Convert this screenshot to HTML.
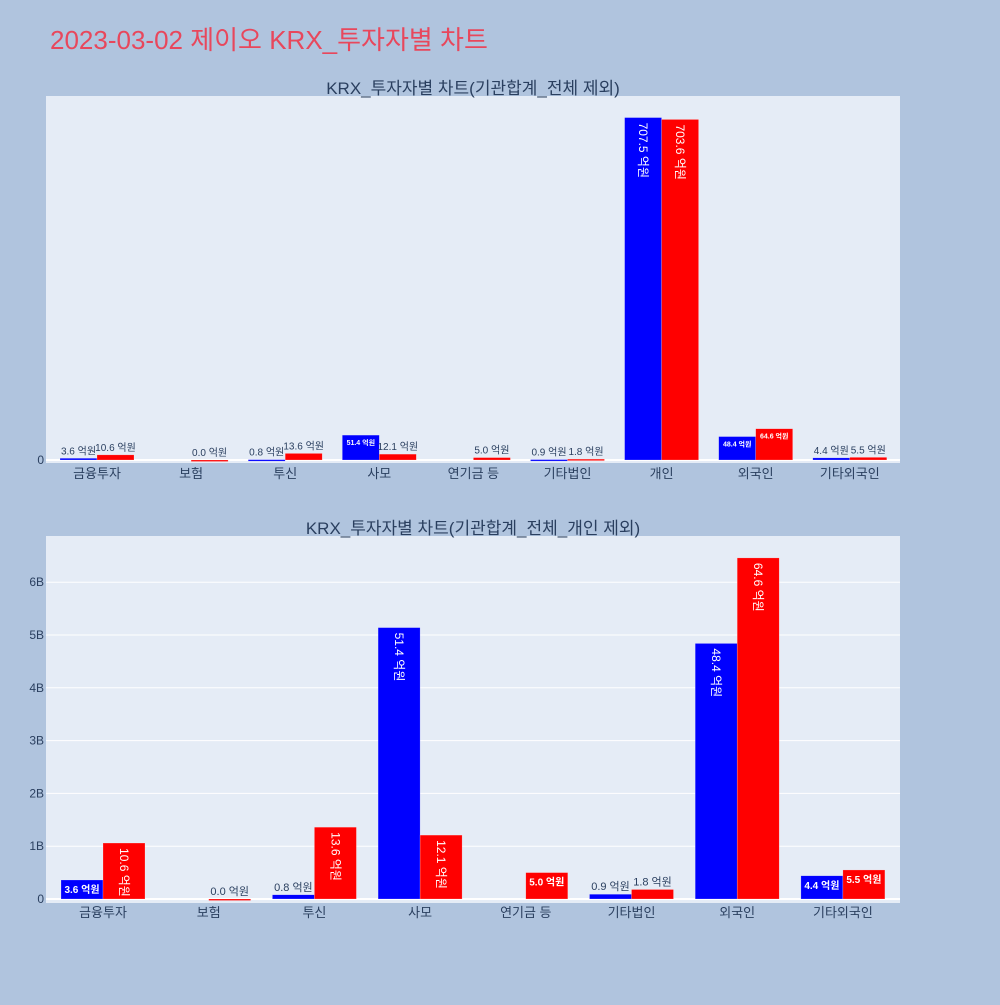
<!DOCTYPE html>
<html><head><meta charset="utf-8">
<style>
body{margin:0;background:#b0c4de;font-family:"Liberation Sans","Noto Sans CJK KR",sans-serif;}
svg text{font-family:"Liberation Sans","Noto Sans CJK KR",sans-serif;}
</style></head>
<body>
<svg id="chart" width="1000" height="1000" xmlns="http://www.w3.org/2000/svg">
<rect width="1000" height="1000" fill="#b0c4de"/>
<text x="50" y="49" font-size="26" fill="#e8475c">2023-03-02 제이오 KRX_투자자별 차트</text>
</svg>
<script>
const cats1 = ["금융투자","보험","투신","사모","연기금 등","기타법인","개인","외국인","기타외국인"];
const blue1 = [3.6, null, 0.8, 51.4, null, 0.9, 707.5, 48.4, 4.4];
const red1 = [10.6, 0.0, 13.6, 12.1, 5.0, 1.8, 703.6, 64.6, 5.5];
const cats2 = ["금융투자","보험","투신","사모","연기금 등","기타법인","외국인","기타외국인"];
const blue2 = [3.6, null, 0.8, 51.4, null, 0.9, 48.4, 4.4];
const red2 = [10.6, 0.0, 13.6, 12.1, 5.0, 1.8, 64.6, 5.5];
const ticks1 = [0,10,20,30,40,50,60,70];
const ticks2 = [0,1,2,3,4,5,6];
const tickLabels1 = ["0","10B","20B","30B","40B","50B","60B","70B"];
const tickLabels2 = ["0","1B","2B","3B","4B","5B","6B"];

const svg = document.getElementById('chart');
const NS = "http://www.w3.org/2000/svg";
function mk(tag, attrs, text){
  const e = document.createElementNS(NS, tag);
  for (const k in attrs) e.setAttribute(k, attrs[k]);
  if (text !== undefined) e.textContent = text;
  svg.appendChild(e);
  return e;
}
// value in 억원 -> B units: 1B = 10억원
function drawChart(o){
  const bg = mk('rect',{x:46,y:o.top,width:854,height:367,fill:'#e5ecf6'});
  
  
  const t = mk('text',{x:473,y:o.top-2,'font-size':17,fill:'#2a3f5f','text-anchor':'middle'},o.title);
  
  
  const y = v => o.zero - v/o.unit*o.pxPer;
  ticks1; // noop
  o.ticks.forEach((tv,i)=>{
    const yy = y(tv*10*o.unit/10*10/10*1) ;
    const py = o.zero - tv*o.pxPer;
    const g = mk('line',{x1:46,x2:900,y1:py,y2:py,stroke:'#fff','stroke-width':tv===0?2:1});
    
    
    const l = mk('text',{x:44,y:py+4,'font-size':12,fill:'#2a3f5f','text-anchor':'end'},o.tickLabels[i]);
    
    
  });
  const cx = i => o.x0 + i*o.step;
  o.cats.forEach((c,i)=>{
    const l = mk('text',{x:cx(i),y:o.zero+18,'font-size':13,fill:'#2a3f5f','text-anchor':'middle'},c);
    
    
  });
  [[o.blue,'#0000ff',-1,'blue'],[o.red,'#ff0000',0,'red']].forEach(([arr,col,off,sn])=>{
    arr.forEach((v,i)=>{
      if (v===null) return;
      const h = v/o.unit*o.pxPer;
      const x = cx(i)+off*o.bw;
      const r = mk('rect',{x:x,y:o.zero-h,width:o.bw,height:Math.max(h,1.5),fill:col,stroke:'rgba(255,255,255,0.4)','stroke-width':0.5});
      
      
      const txt = v.toFixed(1)+' 억원';
      let lt;
      if (h > 50){
        const tx = x+o.bw/2-4, ty = o.zero-h+5;
        lt = mk('text',{x:tx,y:ty,'font-size':o.rotFs,fill:'#fff',transform:`rotate(90 ${tx} ${ty})`},txt);
      } else if (h >= 14){
        lt = mk('text',{x:x+o.bw/2,y:o.zero-h+o.inFs+3,'font-size':o.inFs,'font-weight':'bold',fill:'#fff','text-anchor':'middle'},txt);
      } else {
        lt = mk('text',{x:x+o.bw/2,y:o.zero-h-4,'font-size':o.outFs,fill:'#2a3f5f','text-anchor':'middle'},txt);
      }
      
      
    });
  });
}
drawChart({name:'top-chart',top:96,zero:460,pxPer:48.4,unit:100,ticks:ticks1,tickLabels:tickLabels1,
  cats:cats1,blue:blue1,red:red1,x0:97,step:94.1,bw:37,rotFs:12,inFs:7,outFs:10,
  title:'KRX_투자자별 차트(기관합계_전체 제외)'});
drawChart({name:'bottom-chart',top:536,zero:899,pxPer:52.8,unit:10,ticks:ticks2,tickLabels:tickLabels2,
  cats:cats2,blue:blue2,red:red2,x0:103,step:105.7,bw:42,rotFs:12,inFs:10,outFs:11,
  title:'KRX_투자자별 차트(기관합계_전체_개인 제외)'});
</script>
</body></html>
